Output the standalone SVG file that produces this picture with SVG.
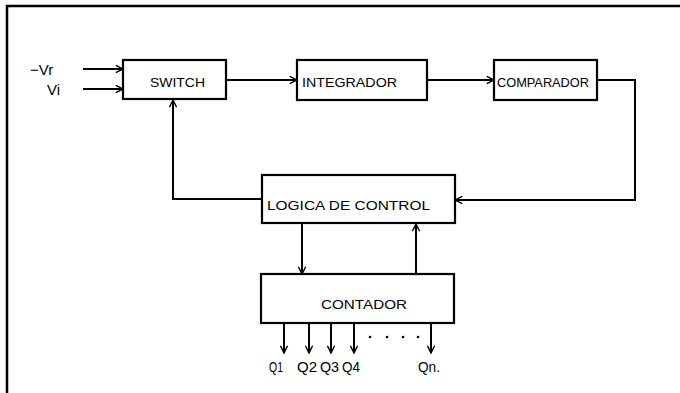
<svg xmlns="http://www.w3.org/2000/svg" width="680" height="393" viewBox="0 0 680 393">
<style>
.box{fill:#fff;stroke:#000;stroke-width:2.2}
.ln{fill:none;stroke:#000;stroke-width:2}
.t{font-family:"Liberation Sans",Arial,sans-serif;font-size:13px;fill:#000}
.q{font-family:"Liberation Sans",Arial,sans-serif;font-size:14px;fill:#000}
.big{font-family:"Liberation Sans",Arial,sans-serif;font-size:15px;fill:#000}
</style>
<defs>
<marker id="ah" viewBox="0 0 10 10" refX="9" refY="5" markerWidth="9" markerHeight="9" markerUnits="userSpaceOnUse" orient="auto">
<path d="M1,1 L9,5 L1,9" fill="none" stroke="#000" stroke-width="1.6"/>
</marker>
</defs>
<rect width="680" height="393" fill="#fff"/>
<path d="M7,393 V6 H680" fill="none" stroke="#000" stroke-width="2.5"/>
<g id="connectors">
<path class="ln" d="M83,69 H123" marker-end="url(#ah)"/>
<path class="ln" d="M83,89 H123" marker-end="url(#ah)"/>
<path class="ln" d="M226,80 H297" marker-end="url(#ah)"/>
<path class="ln" d="M427,80 H494" marker-end="url(#ah)"/>
<path class="ln" d="M597,80 H635 V200 H455" marker-end="url(#ah)"/>
<path class="ln" d="M262,199 H173 V100" marker-end="url(#ah)"/>
<path class="ln" d="M302,223 V274" marker-end="url(#ah)"/>
<path class="ln" d="M416,274 V224" marker-end="url(#ah)"/>
<path class="ln" d="M284,323 V353" marker-end="url(#ah)"/>
<path class="ln" d="M309,323 V353" marker-end="url(#ah)"/>
<path class="ln" d="M331,323 V353" marker-end="url(#ah)"/>
<path class="ln" d="M354,323 V353" marker-end="url(#ah)"/>
<path class="ln" d="M431,323 V353" marker-end="url(#ah)"/>
</g>
<g id="inputs">
<text class="big" x="30" y="75">−Vr</text>
<text class="big" x="47" y="95">Vi</text>
</g>
<g id="switch">
<rect class="box" x="123" y="60" width="103" height="39"/>
<text class="t" x="150" y="87" textLength="55" lengthAdjust="spacingAndGlyphs">SWITCH</text>
</g>
<g id="integrador">
<rect class="box" x="297" y="60" width="130" height="40"/>
<text class="t" x="302" y="87" textLength="95" lengthAdjust="spacingAndGlyphs">INTEGRADOR</text>
</g>
<g id="comparador">
<rect class="box" x="494" y="60" width="103" height="40"/>
<text class="t" x="497" y="87" textLength="92" lengthAdjust="spacingAndGlyphs">COMPARADOR</text>
</g>
<g id="logica">
<rect class="box" x="262" y="175" width="193" height="48"/>
<text class="t" x="267" y="210" textLength="163" lengthAdjust="spacingAndGlyphs">LOGICA DE CONTROL</text>
</g>
<g id="contador">
<rect class="box" x="261" y="274" width="193" height="49"/>
<text class="t" x="321" y="309" textLength="86" lengthAdjust="spacingAndGlyphs">CONTADOR</text>
</g>
<g id="outputs">
<text class="q" x="269" y="372" textLength="14" lengthAdjust="spacingAndGlyphs">Q1</text>
<text class="q" x="297" y="372" textLength="20" lengthAdjust="spacingAndGlyphs">Q2</text>
<text class="q" x="320" y="372" textLength="19" lengthAdjust="spacingAndGlyphs">Q3</text>
<text class="q" x="342" y="372" textLength="18" lengthAdjust="spacingAndGlyphs">Q4</text>
<text class="q" x="418" y="372" textLength="22" lengthAdjust="spacingAndGlyphs">Qn.</text>
<g fill="#000">
<circle cx="370" cy="337" r="1.3"/>
<circle cx="387" cy="337" r="1.3"/>
<circle cx="403" cy="337" r="1.3"/>
<circle cx="418" cy="337" r="1.3"/>
</g>
</g>
</svg>
